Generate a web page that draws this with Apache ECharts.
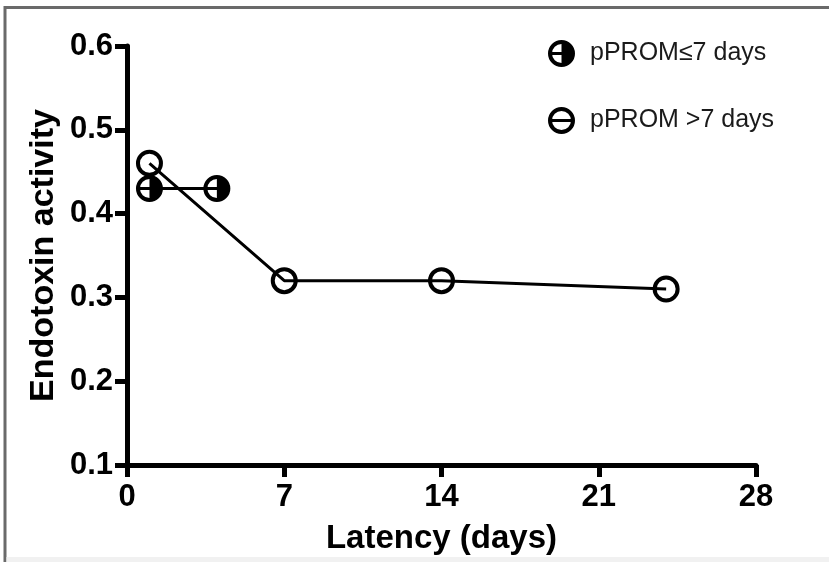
<!DOCTYPE html>
<html>
<head>
<meta charset="utf-8">
<script src="https://cdn.jsdelivr.net/npm/echarts@6/dist/echarts.min.js"></script>
<style>
  html, body { margin: 0; padding: 0; background: #fff; }
  #chart { width: 829px; height: 562px; }
</style>
</head>
<body>
<div id="chart"></div>
<script>
// Endotoxin activity over latency, split by pPROM group
const seriesNames = ['pPROM\u22647 days', 'pPROM >7 days'];
const shortLatencyDays = [1, 4];
const shortActivity = [0.43, 0.43];
const longLatencyDays = [1, 7, 14, 24];
const longActivity = [0.46, 0.32, 0.32, 0.31];
const xTicks = [0, 7, 14, 21, 28];
const yTicks = [0.1, 0.2, 0.3, 0.4, 0.5, 0.6];

// Ring with right half filled and a bar across the left half
const halfFilled = 'path://M0 13.5A13.5 13.5 0 1 1 27 13.5A13.5 13.5 0 1 1 0 13.5Z' +
  'M4 13.5A9.5 9.5 0 1 0 23 13.5A9.5 9.5 0 1 0 4 13.5Z' +
  'M13.5 4A9.5 9.5 0 0 1 13.5 23Z' +
  'M3.5 12L13.5 12L13.5 15L3.5 15Z';
// Open ring with a bar straight through (legend key)
const ringBar = 'path://M0 13.5A13.5 13.5 0 1 1 27 13.5A13.5 13.5 0 1 1 0 13.5Z' +
  'M4 13.5A9.5 9.5 0 1 0 23 13.5A9.5 9.5 0 1 0 4 13.5Z' +
  'M3.5 12L23.5 12L23.5 15L3.5 15Z';

const zip = (xs, ys) => xs.map((x, i) => [x, ys[i]]);

const chart = echarts.init(document.getElementById('chart'), null, { renderer: 'canvas' });
const FONT = '"Liberation Sans", Arial, sans-serif';

chart.setOption({
  backgroundColor: '#fff',
  animation: false,
  graphic: [
    { type: 'line', shape: { x1: 5, y1: 7.5, x2: 829, y2: 7.5 }, style: { stroke: '#6a6a6a', lineWidth: 3 }, silent: true },
    { type: 'line', shape: { x1: 5, y1: 6, x2: 5, y2: 562 }, style: { stroke: '#6a6a6a', lineWidth: 3 }, silent: true },
    { type: 'rect', shape: { x: 6.5, y: 557, width: 823, height: 5 }, style: { fill: '#f1f1f1' }, silent: true }
  ],
  grid: { left: 127, right: 73, top: 46, bottom: 97, containLabel: false },
  legend: {
    orient: 'vertical',
    left: 548,
    top: 40,
    itemWidth: 27,
    itemHeight: 27,
    itemGap: 40,
    padding: 0,
    selectedMode: false,
    itemStyle: { borderWidth: 0 },
    textStyle: { fontFamily: FONT, fontSize: 25, color: '#1a1a1a', padding: [0, 0, 0, 10] },
    data: [
      { name: seriesNames[0], icon: halfFilled, itemStyle: { color: '#000', borderWidth: 0 } },
      { name: seriesNames[1], icon: ringBar, itemStyle: { color: '#000', borderWidth: 0 } }
    ]
  },
  xAxis: {
    type: 'value',
    min: xTicks[0],
    max: xTicks[xTicks.length - 1],
    interval: 7,
    name: 'Latency (days)',
    nameLocation: 'middle',
    nameGap: 57,
    nameMoveOverlap: false,
    nameTextStyle: { fontFamily: FONT, fontSize: 33, fontWeight: 'bold', color: '#000' },
    axisLine: { show: true, onZero: false, lineStyle: { color: '#000', width: 5 } },
    axisTick: { show: true, inside: false, length: 12, lineStyle: { color: '#000', width: 5 } },
    axisLabel: { margin: 17, fontFamily: FONT, fontSize: 31, fontWeight: 'bold', color: '#000' },
    splitLine: { show: false }
  },
  yAxis: {
    type: 'value',
    min: yTicks[0],
    max: yTicks[yTicks.length - 1],
    interval: 0.1,
    name: 'Endotoxin activity',
    nameLocation: 'middle',
    nameGap: 66,
    nameMoveOverlap: false,
    nameTextStyle: { fontFamily: FONT, fontSize: 34, fontWeight: 'bold', color: '#000' },
    axisLine: { show: true, onZero: false, lineStyle: { color: '#000', width: 5 } },
    axisTick: { show: true, inside: false, length: 12, lineStyle: { color: '#000', width: 5 } },
    axisLabel: {
      margin: 14, fontFamily: FONT, fontSize: 31, fontWeight: 'bold', color: '#000',
      formatter: v => v.toFixed(1)
    },
    splitLine: { show: false }
  },
  series: [
    {
      name: seriesNames[0],
      type: 'line',
      data: zip(shortLatencyDays, shortActivity),
      symbol: halfFilled,
      symbolSize: 27,
      showAllSymbol: true,
      itemStyle: { color: '#000', borderWidth: 0 },
      lineStyle: { color: '#000', width: 3 },
      z: 3
    },
    {
      name: seriesNames[1],
      type: 'line',
      data: zip(longLatencyDays, longActivity),
      symbol: 'circle',
      symbolSize: 23,
      showAllSymbol: true,
      itemStyle: { color: 'rgba(0,0,0,0)', borderColor: '#000', borderWidth: 4 },
      lineStyle: { color: '#000', width: 3 },
      z: 2
    }
  ]
});
</script>
</body>
</html>
